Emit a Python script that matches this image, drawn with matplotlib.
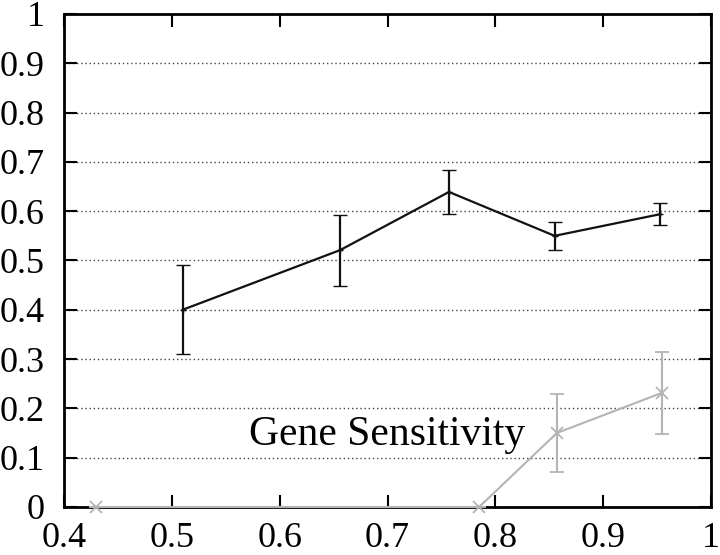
import matplotlib.pyplot as plt

plt.rcParams['font.family'] = ['Liberation Serif', 'DejaVu Serif']

# black series
x_all = [0.51, 0.656, 0.757, 0.855, 0.953]
y_all = [0.40, 0.521, 0.639, 0.55, 0.594]
err_all = [0.09, 0.072, 0.044, 0.029, 0.022]

# gray series
x_gene = [0.43, 0.785, 0.857, 0.955]
y_gene = [0.0, 0.0, 0.15, 0.232]
err_gene = [0.0, 0.0, 0.08, 0.083]

xticks = [0.4, 0.5, 0.6, 0.7, 0.8, 0.9, 1.0]
xtick_labels = ['0.4', '0.5', '0.6', '0.7', '0.8', '0.9', '1']
yticks = [0, 0.1, 0.2, 0.3, 0.4, 0.5, 0.6, 0.7, 0.8, 0.9, 1.0]
ytick_labels = ['0', '0.1', '0.2', '0.3', '0.4', '0.5', '0.6', '0.7', '0.8', '0.9', '1']

fig = plt.figure(figsize=(7.2, 5.55), dpi=100)
ax = fig.add_axes([0.0889, 0.0865, 0.8986, 0.8883])

for y in yticks[1:-1]:
    ax.axhline(y, color='#444444', lw=1, ls=(0, (1, 2)), zorder=1)

gray = '#b4b4b4'
ax.errorbar(x_gene, y_gene, yerr=err_gene, color=gray, lw=1.5, marker='x',
            markersize=9, mew=1.3, capsize=5, capthick=1.5, elinewidth=1.5,
            zorder=3, clip_on=False)
ax.errorbar(x_all, y_all, yerr=err_all, color='#111111', lw=1.6, marker='+',
            markersize=4, mew=1, capsize=5, capthick=1.6, elinewidth=1.6,
            zorder=4)

ax.text(0.828, 0.146, 'Gene Sensitivity', fontsize=30, ha='right', va='center')

ax.set_xlim(0.4, 1.0)
ax.set_ylim(0, 1.0)
ax.set_xticks(xticks)
ax.set_xticklabels(xtick_labels)
ax.set_yticks(yticks)
ax.set_yticklabels(ytick_labels)
ax.tick_params(axis='both', direction='in', length=9, width=1.5, labelsize=26,
               top=True, right=True)
ax.tick_params(axis='x', pad=11)
ax.tick_params(axis='y', pad=14)
for s in ax.spines.values():
    s.set_linewidth(2)

fig.savefig('out.png', dpi=100)
